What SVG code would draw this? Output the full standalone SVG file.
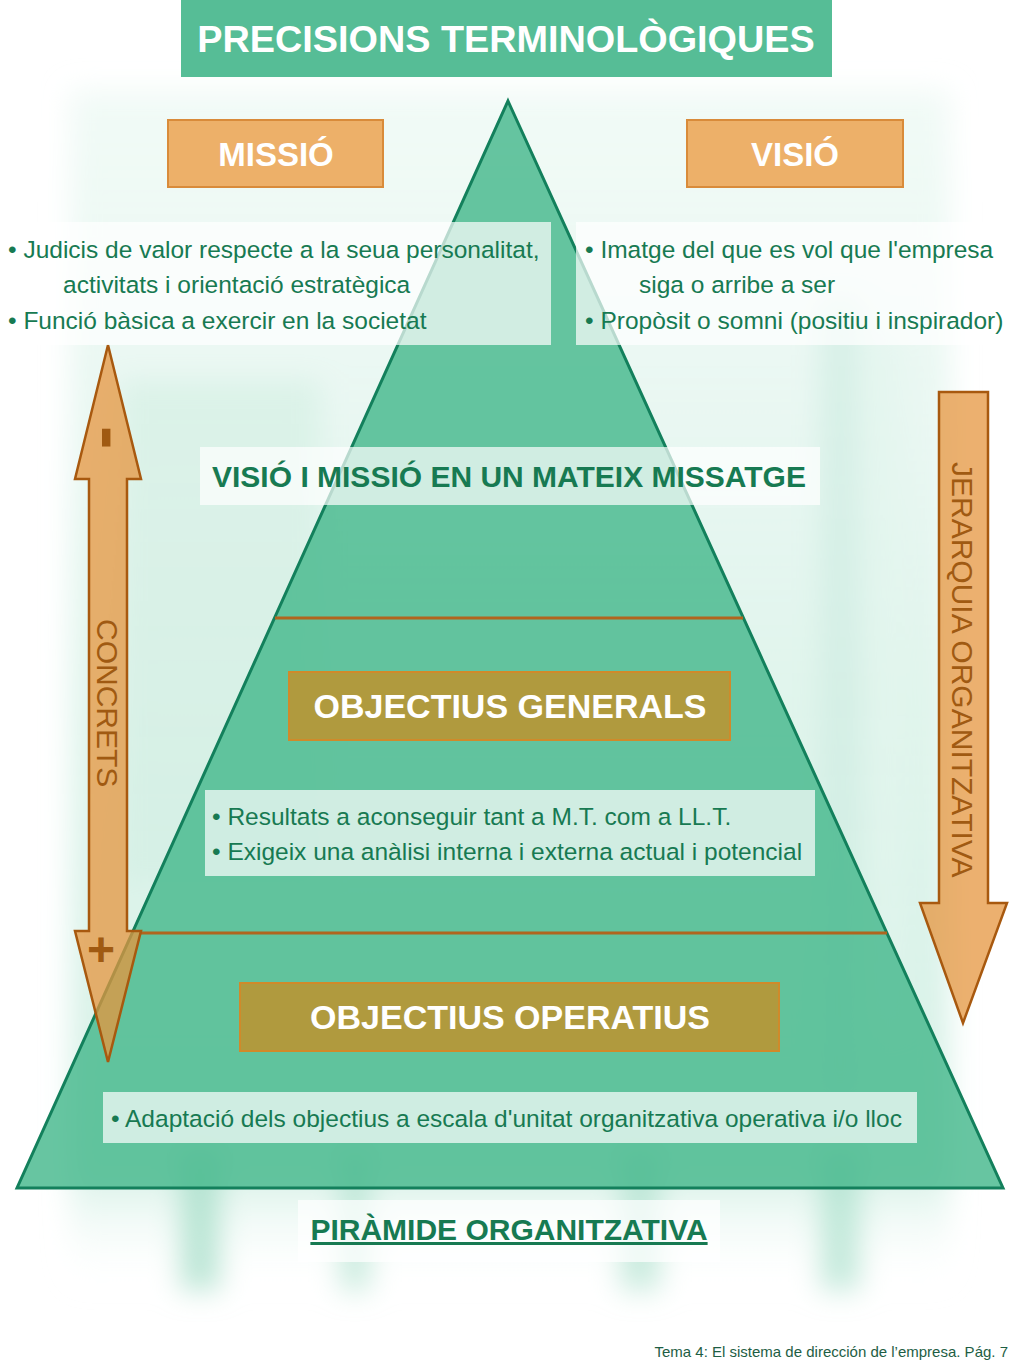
<svg xmlns="http://www.w3.org/2000/svg" width="1024" height="1365" viewBox="0 0 1024 1365">
  <style>
    .body { font-family: "Liberation Sans", Arial, sans-serif; font-size: 24.5px; fill: #177A52; }
    .bold { font-family: "Liberation Sans", Arial, sans-serif; font-weight: bold; }
    .white { fill: #FFFFFF; }
    .green { fill: #177A52; }
    .veil { fill: #FFFFFF; fill-opacity: 0.7; }
    .orangebox { fill: #EDB069; stroke: #D98B3A; stroke-width: 2; }
    .olivebox { fill: #B09A3E; stroke: #D08A2A; stroke-width: 2; }
    .arrow { fill: #E5953F; fill-opacity: 0.75; stroke: #A8590F; stroke-width: 2.5; stroke-linejoin: miter; }
    .arrowtext { font-family: "Liberation Sans", Arial, sans-serif; font-size: 30px; fill: #A05A12; }
    .sign { font-family: "Liberation Sans", Arial, sans-serif; font-weight: bold; fill: #A05A12; }
    .tier { stroke: #B0651E; stroke-width: 3; fill: none; }
  </style>
  <defs>
    <filter id="blur" x="-20%" y="-20%" width="140%" height="140%">
      <feGaussianBlur stdDeviation="14"/>
    </filter>
    <linearGradient id="bgGrad" x1="0" y1="0" x2="0" y2="1">
      <stop offset="0" stop-color="#E8F7F1" stop-opacity="0.6"/>
      <stop offset="0.5" stop-color="#D9F2E8" stop-opacity="0.8"/>
      <stop offset="0.9" stop-color="#C6EBDD" stop-opacity="0.7"/>
      <stop offset="1" stop-color="#FFFFFF" stop-opacity="0"/>
    </linearGradient>
  </defs>

  <rect x="0" y="0" width="1024" height="1365" fill="#FFFFFF"/>

  <!-- faint background photo -->
  <g id="background" filter="url(#blur)">
    <rect x="70" y="90" width="880" height="1200" fill="url(#bgGrad)"/>
    <rect x="120" y="380" width="200" height="500" fill="#D2EEE3" opacity="0.6"/>
    <rect x="820" y="300" width="40" height="800" fill="#CFEDE2" opacity="0.7"/>
    <rect x="870" y="330" width="30" height="700" fill="#E2F5EE" opacity="0.7"/>
    <rect x="180" y="1150" width="40" height="140" fill="#9FDCC4" opacity="0.7"/>
    <rect x="340" y="1150" width="30" height="140" fill="#A5DEC8" opacity="0.6"/>
    <rect x="620" y="1150" width="40" height="140" fill="#A5DEC8" opacity="0.6"/>
    <rect x="820" y="1150" width="40" height="140" fill="#9FDCC4" opacity="0.6"/>
  </g>

  <!-- title -->
  <g id="title">
    <rect x="181" y="0" width="651" height="77" fill="#56BD96"/>
    <text x="506" y="52" text-anchor="middle" class="bold white" font-size="37.8">PRECISIONS TERMINOLÒGIQUES</text>
  </g>

  <!-- pyramid -->
  <g id="pyramid">
    <polygon points="508,101 1003,1188 17,1188" fill="#45B88C" fill-opacity="0.82" stroke="#13805C" stroke-width="3" stroke-linejoin="miter"/>
  </g>

  <!-- connectors: tier dividers -->
  <g id="connectors">
    <line class="tier" x1="275" y1="618" x2="743" y2="618"/>
    <line class="tier" x1="141" y1="933" x2="887" y2="933"/>
  </g>

  <!-- arrows (on top, translucent fill) -->
  <g id="arrow-concrets">
    <path class="arrow" d="M108,345 L141,479 L127,479 L127,931 L141,931 L108,1062 L75,931 L89,931 L89,479 L75,479 Z"/>
    <text class="arrowtext" transform="translate(97,619) rotate(90)">CONCRETS</text>
    <text class="sign" font-size="70" transform="translate(88,426) rotate(90)">-</text>
    <text x="101" y="966" text-anchor="middle" class="sign" font-size="48">+</text>
  </g>

  <g id="arrow-jerarquia">
    <path class="arrow" d="M939,392 L988,392 L988,903 L1007,903 L963,1023 L920,903 L939,903 Z"/>
    <text class="arrowtext" transform="translate(952,462) rotate(90)">JERARQUIA ORGANITZATIVA</text>
  </g>

  <g id="missio">
    <rect class="orangebox" x="168" y="120" width="215" height="67"/>
    <text x="276" y="166" text-anchor="middle" class="bold white" font-size="33">MISSIÓ</text>
  </g>

  <g id="visio">
    <rect class="orangebox" x="687" y="120" width="216" height="67"/>
    <text x="795" y="166" text-anchor="middle" class="bold white" font-size="33">VISIÓ</text>
  </g>

  <g id="missio-text">
    <rect class="veil" x="0" y="222" width="551" height="123"/>
    <text class="body" x="8" y="258">• Judicis de valor respecte a la seua personalitat,</text>
    <text class="body" x="63" y="293">activitats i orientació estratègica</text>
    <text class="body" x="8" y="329">• Funció bàsica a exercir en la societat</text>
  </g>

  <g id="visio-text">
    <rect class="veil" x="576" y="222" width="448" height="123"/>
    <text class="body" x="585" y="258">• Imatge del que es vol que l'empresa</text>
    <text class="body" x="639" y="293">siga o arribe a ser</text>
    <text class="body" x="585" y="329">• Propòsit o somni (positiu i inspirador)</text>
  </g>

  <g id="visio-missio">
    <rect class="veil" x="200" y="447" width="620" height="58"/>
    <text x="509" y="487" text-anchor="middle" class="bold green" font-size="30">VISIÓ I MISSIÓ EN UN MATEIX MISSATGE</text>
  </g>

  <g id="objectius-generals">
    <rect class="olivebox" x="289" y="672" width="441" height="68"/>
    <text x="510" y="718" text-anchor="middle" class="bold white" font-size="34">OBJECTIUS GENERALS</text>
  </g>

  <g id="generals-text">
    <rect class="veil" x="205" y="790" width="610" height="86"/>
    <text class="body" x="212" y="825">• Resultats a aconseguir tant a M.T. com a LL.T.</text>
    <text class="body" x="212" y="860">• Exigeix una anàlisi interna i externa actual i potencial</text>
  </g>

  <g id="objectius-operatius">
    <rect class="olivebox" x="240" y="983" width="539" height="68"/>
    <text x="510" y="1029" text-anchor="middle" class="bold white" font-size="34">OBJECTIUS OPERATIUS</text>
  </g>

  <g id="operatius-text">
    <rect class="veil" x="103" y="1092" width="814" height="51"/>
    <text class="body" x="111" y="1127">• Adaptació dels objectius a escala d'unitat organitzativa operativa i/o lloc</text>
  </g>

  <g id="piramide">
    <rect class="veil" x="298" y="1200" width="422" height="62"/>
    <text x="509" y="1240" text-anchor="middle" class="bold green" font-size="30" text-decoration="underline">PIRÀMIDE ORGANITZATIVA</text>
  </g>

  <g id="footer">
    <text x="1008" y="1357" text-anchor="end" font-family="Liberation Sans, Arial, sans-serif" font-size="15" fill="#1E5E44">Tema 4: El sistema de dirección de l’empresa. Pág. 7</text>
  </g>
</svg>
